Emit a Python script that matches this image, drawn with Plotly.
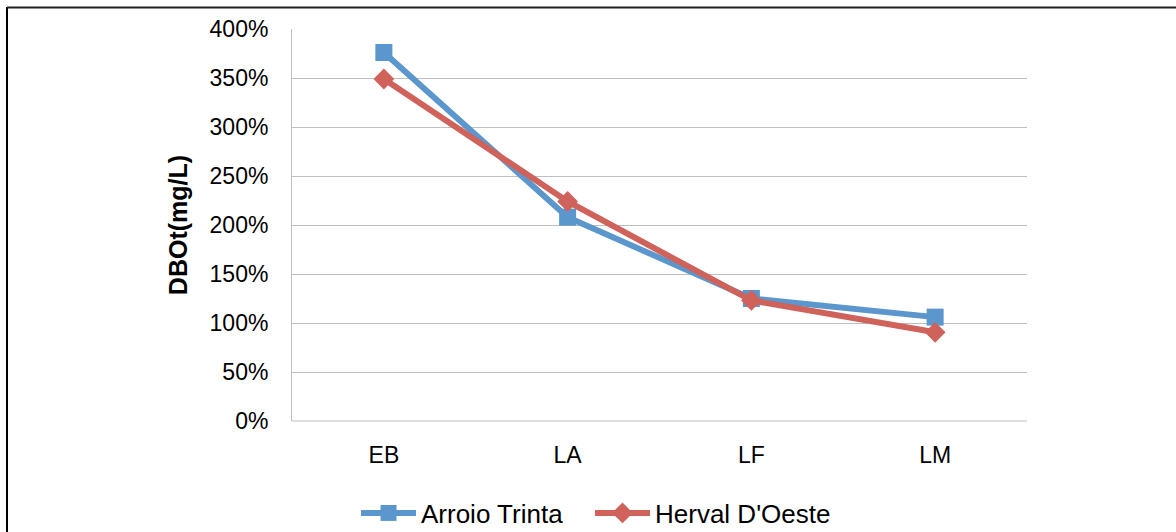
import plotly.graph_objects as go

categories = ["EB", "LA", "LF", "LM"]
arroio_trinta = [3.76, 2.08, 1.25, 1.06]
herval_doeste = [3.49, 2.24, 1.23, 0.905]
y_ticks = [0, 0.5, 1.0, 1.5, 2.0, 2.5, 3.0, 3.5, 4.0]
y_tick_labels = ["0%", "50%", "100%", "150%", "200%", "250%", "300%", "350%", "400%"]

BLUE = "#5B96CC"
RED = "#D0625C"

fig = go.Figure()
fig.add_trace(go.Scatter(
    x=categories, y=arroio_trinta, name="Arroio Trinta",
    mode="lines+markers",
    line=dict(color=BLUE, width=6),
    marker=dict(symbol="square", size=17, color=BLUE),
    legend="legend",
))
fig.add_trace(go.Scatter(
    x=categories, y=herval_doeste, name="Herval D'Oeste",
    mode="lines+markers",
    line=dict(color=RED, width=6),
    marker=dict(symbol="diamond", size=16, color=RED),
    legend="legend2",
))

L, R, T, B = 292, 1176 - 1027, 29, 532 - 421
W, H = 1176, 532
pw, ph = W - L - R, H - T - B

def px_x(p):
    return (p - L) / pw

def px_y(p):
    return (H - B - p) / ph

legend_common = dict(
    orientation="h", xanchor="left",
    y=px_y(513), yanchor="middle",
    font=dict(size=26), itemwidth=55,
    bgcolor="rgba(0,0,0,0)",
)

fig.update_layout(
    width=W, height=H,
    margin=dict(l=L, r=R, t=T, b=B, pad=0, autoexpand=False),
    paper_bgcolor="white", plot_bgcolor="white",
    font=dict(family="Liberation Sans, Arial, sans-serif", size=22, color="black"),
    showlegend=True,
    legend=dict(x=px_x(356), **legend_common),
    legend2=dict(x=px_x(590), **legend_common),
    xaxis=dict(
        type="category", range=[-0.5, 3.5],
        showgrid=False, zeroline=False,
        showline=False, ticks="", ticklen=0,
        tickfont=dict(size=23), ticklabelstandoff=18,
        fixedrange=True,
    ),
    yaxis=dict(
        range=[0, 4.0], tickvals=y_ticks, ticktext=y_tick_labels,
        showgrid=True, gridcolor="#BEBEBE", gridwidth=1,
        zeroline=False, showline=True, linecolor="#BEBEBE", linewidth=1,
        ticks="", tickfont=dict(size=23), ticklabelstandoff=18,
        title=dict(text="<b>DBOt(mg/L)</b>", font=dict(size=25), standoff=14),
        fixedrange=True,
    ),
    shapes=[
        dict(type="line", xref="paper", yref="paper",
             x0=0, x1=1, y0=0, y1=0,
             line=dict(color="#BEBEBE", width=1)),
        dict(type="line", xref="paper", yref="paper",
             x0=px_x(7), x1=px_x(7), y0=px_y(7), y1=px_y(540),
             line=dict(color="black", width=2)),
        dict(type="line", xref="paper", yref="paper",
             x0=px_x(7), x1=px_x(1180), y0=px_y(7.5), y1=px_y(7.5),
             line=dict(color="#222222", width=2)),
    ],
)

fig.write_html("out.html")
